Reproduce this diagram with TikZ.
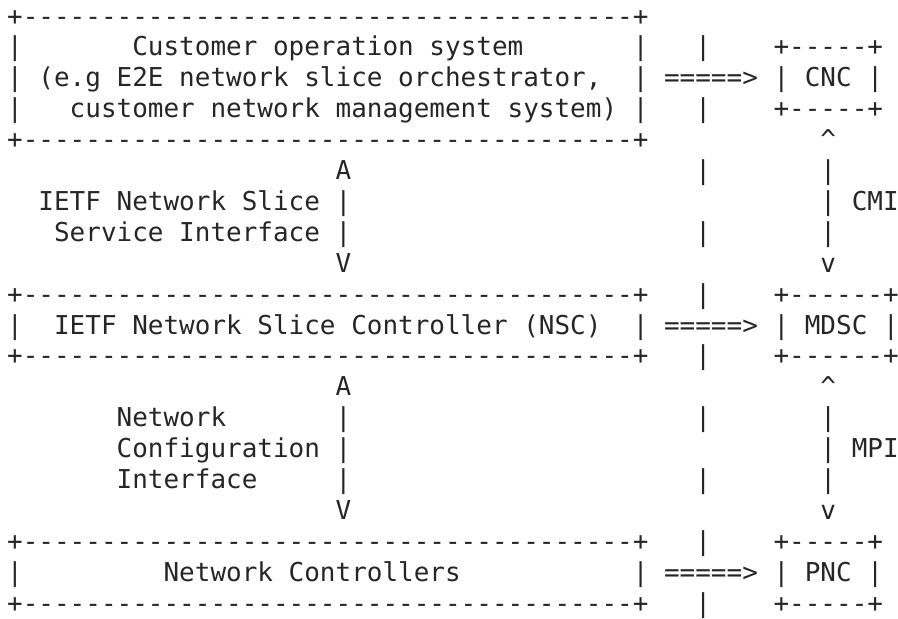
\documentclass[tikz,border=0pt]{standalone}
\usepackage{fontspec}
\setmonofont{DejaVu Sans Mono}
\tikzset{%
  % Specifications for style of the character cells:
      ascii/.style = {inner sep=0pt, outer sep=0pt, anchor=north west,
                      align=left, text=black!85,
                      font=\ttfamily\fontsize{12.99}{15.45}\selectfont},
  asciiright/.style = {ascii, align=right},
}
\begin{document}
\begin{tikzpicture}[x=7.82pt, y=-15.45pt]
  \useasboundingbox (-3.59pt,1.685pt) rectangle (445.41pt,-307.315pt);

  % left column: customer system, NSC, network controllers
  \node[ascii] (cos) at (0,0) {\strut+---------------------------------------+\\
|~~~~~~~Customer operation system~~~~~~~|\\
| (e.g E2E network slice orchestrator,~~|\\
|~~~customer network management system) |\\
+---------------------------------------+};
  \node[ascii] (nsc) at (0,9) {\strut+---------------------------------------+\\
|~~IETF Network Slice Controller (NSC)~~|\\
+---------------------------------------+};
  \node[ascii] (nc) at (0,17) {\strut+---------------------------------------+\\
|~~~~~~~~~Network Controllers~~~~~~~~~~~|\\
+---------------------------------------+};

  % interfaces between them
  \node[ascii] (nssi) at (21,5) {\strut A\\|\\|\\V};
  \node[asciiright] (nssiText) at (2,6) {\strut IETF Network Slice\\Service Interface};
  \node[ascii] (nci) at (21,12) {\strut A\\|\\|\\|\\V};
  \node[ascii] (nciText) at (7,13) {\strut Network\\Configuration\\Interface};

  % the dividing line
  \foreach \r in {1,3,...,19}
    \node[ascii] (bus\r) at (44,\r) {\strut|};

  % mapping arrows
  \node[ascii] (toCnc) at (42,2) {\strut=====>};
  \node[ascii] (toMdsc) at (42,10) {\strut=====>};
  \node[ascii] (toPnc) at (42,18) {\strut=====>};

  % right column: ACTN
  \node[ascii] (cnc) at (49,1) {\strut+-----+\\| CNC |\\+-----+};
  \node[ascii] (mdsc) at (49,9) {\strut+------+\\| MDSC |\\+------+};
  \node[ascii] (pnc) at (49,17) {\strut+-----+\\| PNC |\\+-----+};

  \node[ascii] (cmi) at (52,4) {\strut\textasciicircum\\|\\|\\|\\v};
  \node[ascii] (cmiText) at (54,6) {\strut CMI};
  \node[ascii] (mpi) at (52,12) {\strut\textasciicircum\\|\\|\\|\\v};
  \node[ascii] (mpiText) at (54,14) {\strut MPI};
\end{tikzpicture}
\end{document}
